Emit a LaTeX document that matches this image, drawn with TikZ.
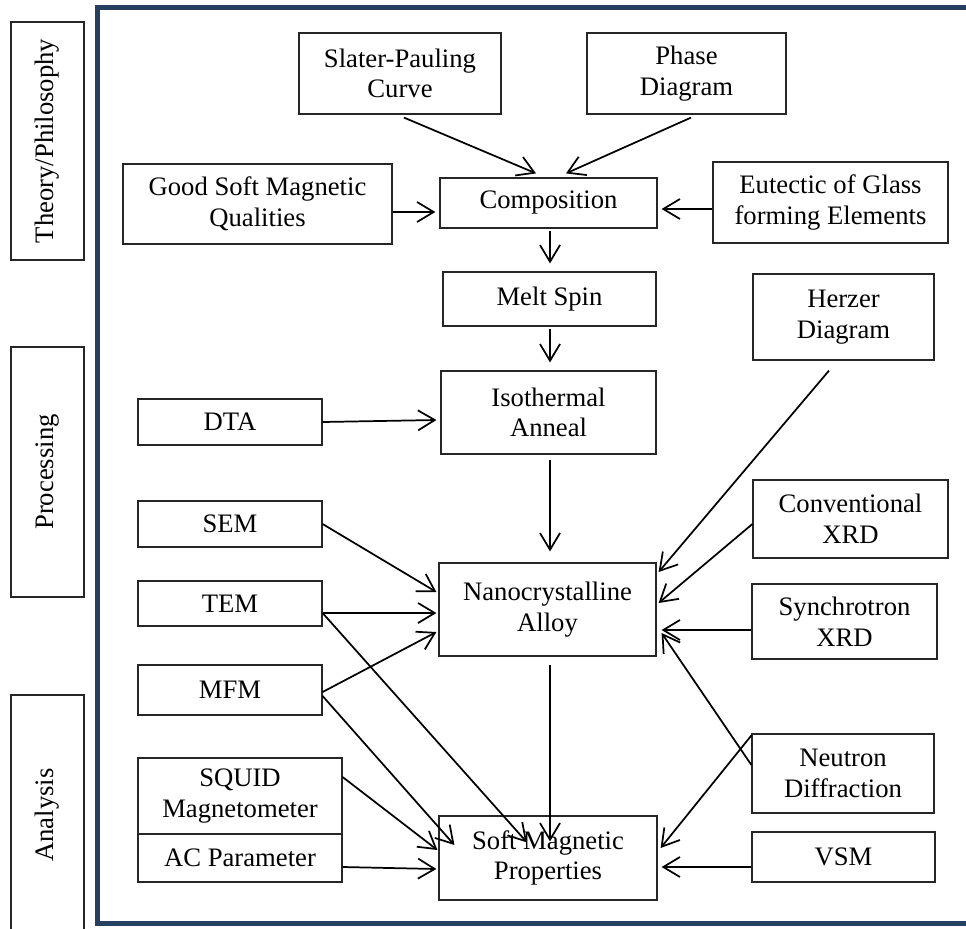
\documentclass[tikz,border=0pt]{standalone}
\usepackage{fontspec}
\setmainfont{Liberation Serif}
\usetikzlibrary{arrows.meta,calc}
\definecolor{framenavy}{RGB}{37,64,97}
% \mybox{x1}{y1}{x2}{y2}{name}{text}  (pixel coordinates)
\newcommand\mybox[6]{%
  \node[box,minimum width={(#3-#1)*0.75pt},minimum height={(#4-#2)*0.75pt}]
    (#5) at ({(#1+#3)/2},{(#2+#4)/2}) {#6};}
\begin{document}
\begin{tikzpicture}[x=0.75pt,y=-0.75pt,
  box/.style={draw=black!85,line width=0.9pt,inner sep=0pt,align=center,
    font=\fontsize{20}{23}\selectfont},
  sidebox/.style={draw=black!85,line width=0.9pt,inner sep=0pt},
  arr/.style={line width=1.3pt,-{Straight Barb[length=12.5pt,width=15pt,line width=1.3pt]}}]
\useasboundingbox (0,0) rectangle (966,928);
% frame
\draw[framenavy,line width=3.75pt] (97.5,7.5) rectangle (985,923.5);
% side labels
\node[sidebox,minimum width={73*0.75pt},minimum height={238*0.75pt}] (theo) at (47.5,141) {};
\node[rotate=90,font=\fontsize{20}{23}\selectfont] (theot) at (theo.center) {Theory/Philosophy};
\node[sidebox,minimum width={73*0.75pt},minimum height={250*0.75pt}] (proc) at (47.5,472) {};
\node[rotate=90,font=\fontsize{20}{23}\selectfont] (proct) at (proc.center) {Processing};
\node[sidebox,minimum width={73*0.75pt},minimum height={240*0.75pt}] (anal) at (47.5,815) {};
\node[rotate=90,font=\fontsize{20}{23}\selectfont] (analt) at (anal.center) {Analysis};
% boxes
\mybox{299}{33}{501}{114}{slater}{Slater-Pauling\\Curve}
\mybox{587}{33}{786}{114}{phase}{Phase\\Diagram}
\mybox{123}{164}{392}{244}{good}{Good Soft Magnetic\\Qualities}
\mybox{440}{178}{657}{228}{comp}{Composition}
\mybox{713}{162}{948}{243}{eut}{Eutectic of Glass\\forming Elements}
\mybox{443}{272}{656}{326}{melt}{Melt Spin}
\mybox{753}{274}{934}{360}{herzer}{Herzer\\Diagram}
\mybox{441}{371}{656}{454}{iso}{Isothermal\\Anneal}
\mybox{138}{399}{322}{445}{dta}{DTA}
\mybox{138}{501}{322}{547}{sem}{SEM}
\mybox{138}{581}{322}{626}{tem}{TEM}
\mybox{439}{563}{656}{656}{nano}{Nanocrystalline\\Alloy}
\mybox{753}{480}{948}{558}{conv}{Conventional\\XRD}
\mybox{752}{584}{937}{659}{sync}{Synchrotron\\XRD}
\mybox{138}{665}{322}{715}{mfm}{MFM}
\mybox{138}{758}{342}{834}{squid}{SQUID\\Magnetometer}
\mybox{138}{834}{342}{882}{ac}{AC Parameter}
\mybox{439}{816}{657}{900}{soft}{Soft Magnetic\\Properties}
\mybox{752}{734}{934}{813}{neut}{Neutron\\Diffraction}
\mybox{752}{832}{935}{882}{vsm}{VSM}
% arrows
\draw[arr] ($(slater.south)+(4,3)$) -- ($(comp.north)+(-12.5,-4)$);
\draw[arr] ($(phase.south)+(4.5,3)$) -- ($(comp.north)+(17.5,-4)$);
\draw[arr] ($(good.east)+(0,8)$) -- ($(comp.west)+(-4,9)$);
\draw[arr] ($(eut.west)+(0,6.5)$) -- ($(comp.east)+(4,6)$);
\draw[arr] ($(comp.south)+(1.5,2)$) -- ($(melt.north)+(0.5,-8)$);
\draw[arr] ($(melt.south)+(0.5,2)$) -- ($(iso.north)+(1.5,-8)$);
\draw[arr] (dta.east) -- ($(iso.west)+(-4,7.5)$);
\draw[arr] ($(iso.south)+(1.5,5)$) -- ($(nano.north)+(2.5,-11)$);
\draw[arr] (sem.east) -- ($(nano.west)+(-2,-17.5)$);
\draw[arr] ($(tem.east)+(0,9.5)$) -- ($(nano.west)+(-2,3.5)$);
\draw[arr] ($(mfm.east)+(0,2)$) -- ($(nano.west)+(-2,22.5)$);
\draw[arr] ($(tem.east)+(0,9.5)$) -- ($(soft.north)+(-21,27)$);
\draw[arr] ($(mfm.east)+(0,6)$) -- ($(soft.west)+(16,-13)$);
\draw[arr] ($(squid.east)+(0,-19)$) -- ($(soft.west)+(-1,-8)$);
\draw[arr] ($(ac.east)+(0,9)$) -- ($(soft.west)+(-2,11)$);
\draw[arr] ($(nano.south)+(2.5,8)$) -- ($(soft.north)+(2,26)$);
\draw[arr] ($(herzer.south)+(-14.5,10)$) -- ($(nano.east)+(2,-37.5)$);
\draw[arr] ($(conv.west)+(0,5)$) -- ($(nano.east)+(2,-6.5)$);
\draw[arr] ($(sync.west)+(0,8.5)$) -- ($(nano.east)+(5,20.5)$);
\draw[arr] ($(neut.west)+(0,-8.5)$) -- ($(nano.east)+(5,23.5)$);
\draw[arr] ($(neut.north west)+(0,2)$) -- ($(soft.east)+(3,-10)$);
\draw[arr] ($(vsm.west)+(0,10)$) -- ($(soft.east)+(4,9)$);
\end{tikzpicture}
\end{document}
